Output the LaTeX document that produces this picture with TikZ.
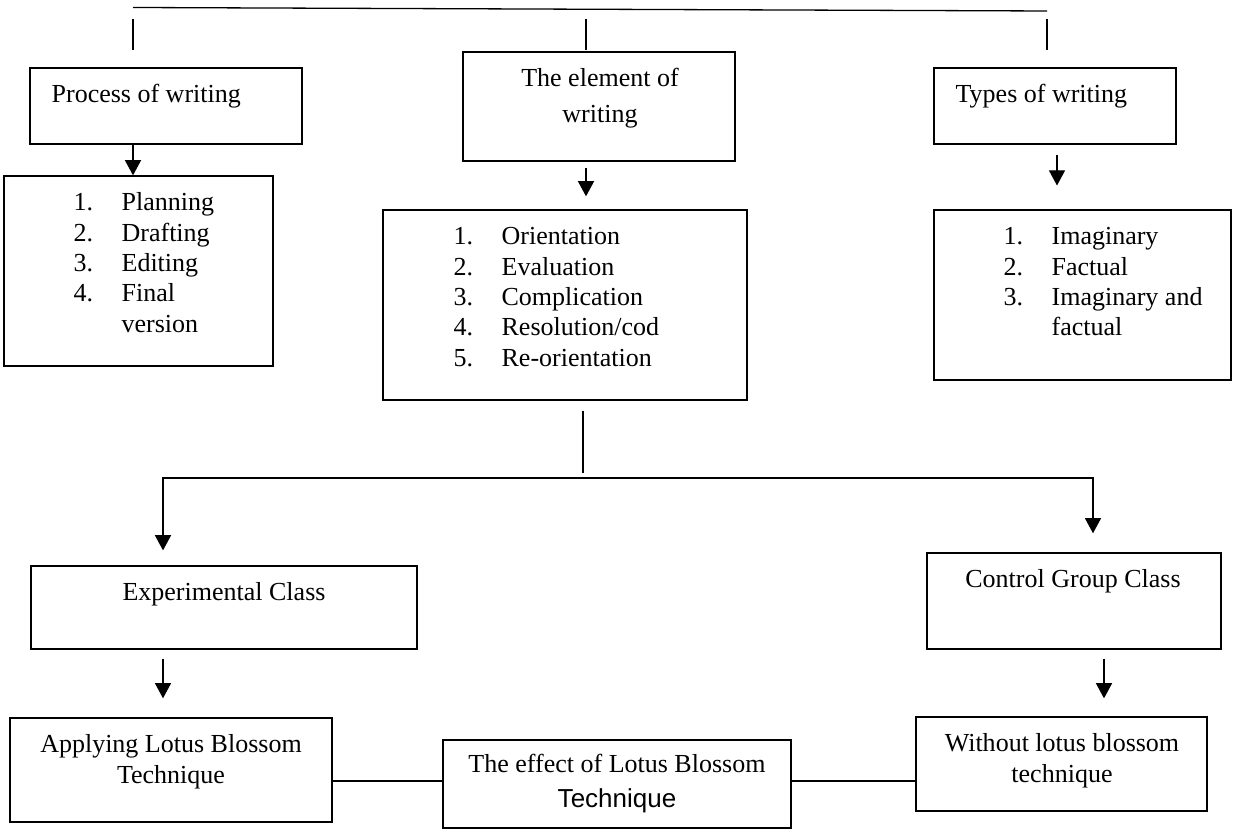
\documentclass[tikz,border=0pt]{standalone}
\usepackage{fontspec}
\setmainfont{Liberation Serif}
\newfontfamily\sansfnt{Liberation Sans}
\usetikzlibrary{arrows.meta,fit}

\begin{document}
\begin{tikzpicture}[x=0.4615pt, y=-0.4615pt, line width=0.6pt,
    font=\fontsize{12}{14}\selectfont,
    box/.style={draw, inner sep=0pt},
    lbl/.style={inner sep=0pt, anchor=base west},
    clbl/.style={inner sep=0pt, anchor=base},
    arr/.style={-{Triangle[width=7.4pt,length=7pt]}}]
  \useasboundingbox (0,0) rectangle (1233,835);

  % top bar
  \coordinate (t1) at (133,7.5);
  \coordinate (t2) at (1047,11);
  \draw (t1) -- (t2);
  \foreach \x in {133,586,1047}
    \draw (\x,19) -- (\x,50);

  % boxes
  \node[box, fit={(30,68) (302,144)}] (proc) {};
  \node[box, fit={(4,176) (273,366)}] (plist) {};
  \node[box, fit={(463,52) (735,161)}] (elem) {};
  \node[box, fit={(383,210) (747,400)}] (elist) {};
  \node[box, fit={(934,68) (1176,144)}] (types) {};
  \node[box, fit={(934,210) (1231,380)}] (tlist) {};
  \node[box, fit={(31,566) (417,649)}] (exper) {};
  \node[box, fit={(927,553) (1221,649)}] (ctrl) {};
  \node[box, fit={(10,718) (332,822)}] (apply) {};
  \node[box, fit={(443,740) (791,828)}] (effect) {};
  \node[box, fit={(916,717) (1207,811)}] (without) {};

  % texts
  \node[lbl] (proc-t) at (51,103) {Process of writing};
  \node[lbl] (types-t) at (955,103) {Types of writing};
  \node[clbl] (elem-t) at (600,87)
    {\begin{tabular}[t]{@{}c@{}}The element of\\[2.3pt]writing\end{tabular}};
  \node[lbl] (plist-t) at (73,211)
    {\begin{tabular}[t]{@{}p{22.15pt}@{}l@{}}
      1.&Planning\\2.&Drafting\\3.&Editing\\4.&Final\\&version
    \end{tabular}};
  \node[lbl] (elist-t) at (453,245)
    {\begin{tabular}[t]{@{}p{22.15pt}@{}l@{}}
      1.&Orientation\\2.&Evaluation\\3.&Complication\\4.&Resolution/cod\\5.&Re-orientation
    \end{tabular}};
  \node[lbl] (tlist-t) at (1003,245)
    {\begin{tabular}[t]{@{}p{22.15pt}@{}l@{}}
      1.&Imaginary\\2.&Factual\\3.&Imaginary and\\&factual
    \end{tabular}};
  \node[clbl] (exper-t) at (224,601) {Experimental Class};
  \node[clbl] (ctrl-t) at (1073,588) {Control Group Class};
  \node[clbl] (apply-t) at (171,753)
    {\begin{tabular}[t]{@{}c@{}}Applying Lotus Blossom\\Technique\end{tabular}};
  \node[clbl] (effect-t) at (617,773)
    {\begin{tabular}[t]{@{}c@{}}The effect of Lotus Blossom\\[1.7pt]{\sansfnt Technique}\end{tabular}};
  \node[clbl] (without-t) at (1062,752)
    {\begin{tabular}[t]{@{}c@{}}Without lotus blossom\\technique\end{tabular}};

  % arrows
  \draw[arr] (proc.south -| 133,0) -- (plist.north -| 133,0);
  \draw[arr, shorten <=2.8pt, shorten >=6pt] (elem.south -| 586,0) -- (elist.north -| 586,0);
  \draw[arr, shorten <=5pt, shorten >=11pt] (types.south -| 1057,0) -- (tlist.north -| 1057,0);

  \coordinate (jc) at (583,478);
  \draw[shorten <=4.6pt, shorten >=2.3pt] (elist.south -| jc) -- (jc);
  \draw[arr, shorten >=6.9pt] (jc) -| (exper.north -| 163,0);
  \draw[arr, shorten >=8.8pt] (jc) -| (ctrl.north -| 1093,0);
  \draw[arr, shorten <=4.2pt, shorten >=8.8pt] (exper.south -| 163,0) -- (apply.north -| 163,0);
  \draw[arr, shorten <=4.2pt, shorten >=8.3pt] (ctrl.south -| 1104,0) -- (without.north -| 1104,0);

  \draw (apply.east |- 0,781) -- (effect.west |- 0,781);
  \draw (effect.east |- 0,781) -- (without.west |- 0,781);
\end{tikzpicture}
\end{document}
